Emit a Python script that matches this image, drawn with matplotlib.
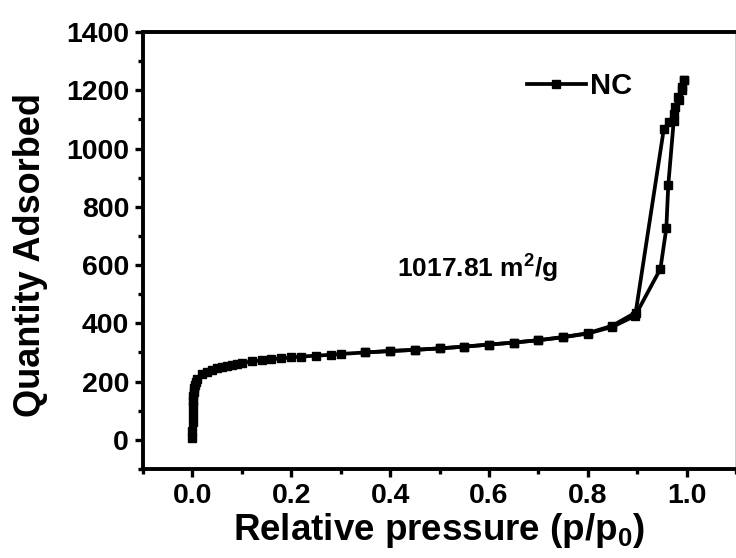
import matplotlib
matplotlib.use("Agg")
import matplotlib.pyplot as plt
from matplotlib.ticker import MultipleLocator

# adsorption branch (p/p0, quantity adsorbed)
ads_p = [0.0, 0.0, 0.0005, 0.001, 0.001, 0.0015, 0.002, 0.003, 0.004, 0.005, 0.007,
         0.01, 0.02, 0.03, 0.04, 0.05, 0.06, 0.07, 0.08, 0.09, 0.10, 0.12, 0.14,
         0.16, 0.18, 0.20, 0.22, 0.25, 0.28, 0.30, 0.35, 0.40, 0.45, 0.50, 0.55,
         0.60, 0.65, 0.70, 0.75, 0.80, 0.85, 0.896, 0.947, 0.959, 0.963, 0.974,
         0.977, 0.983, 0.991, 0.995]
ads_q = [5, 30, 60, 90, 115, 135, 150, 165, 178, 188, 198,
         210, 225, 232, 240, 246, 250, 254, 258, 261, 264, 269, 273,
         277, 280, 283, 286, 289, 292, 295, 300, 305, 309, 314, 320,
         327, 334, 342, 352, 365, 388, 426, 587, 726, 876, 1095,
         1142, 1176, 1211, 1234]

# desorption branch
des_p = [0.995, 0.990, 0.985, 0.975, 0.965, 0.954, 0.897, 0.85, 0.80, 0.75,
         0.70, 0.65, 0.60, 0.55, 0.50, 0.45, 0.40, 0.35]
des_q = [1234, 1200, 1165, 1120, 1090, 1068, 437, 392, 366, 353,
         342, 334, 327, 320, 314, 309, 305, 300]

plt.rcParams["font.family"] = ["Liberation Sans", "DejaVu Sans"]
plt.rcParams["font.weight"] = "bold"
plt.rcParams["mathtext.fontset"] = "custom"
plt.rcParams["mathtext.rm"] = "Liberation Sans:bold"
plt.rcParams["mathtext.bf"] = "Liberation Sans:bold"
plt.rcParams["mathtext.default"] = "bf"

fig = plt.figure(figsize=(7.36, 5.58), dpi=100)
ax = fig.add_axes([143 / 736, 89 / 558, 593 / 736, 437 / 558])

style = dict(color="black", lw=2.7, marker="s", ms=6, mec="black", mfc="black")
ax.plot(ads_p, ads_q, label="NC", **style)
ax.plot(des_p, des_q, **style)

ax.set_xlim(-0.1, 1.1)
ax.set_ylim(-100, 1400)
ax.xaxis.set_major_locator(MultipleLocator(0.2))
ax.xaxis.set_minor_locator(MultipleLocator(0.1))
ax.yaxis.set_major_locator(MultipleLocator(200))
ax.yaxis.set_minor_locator(MultipleLocator(100))
ax.tick_params(which="both", direction="out", width=2.4, top=False, right=False)
ax.tick_params(which="major", length=6, labelsize=20.5, pad=4)
ax.tick_params(which="minor", length=3.5)
for lbl in ax.get_xticklabels() + ax.get_yticklabels():
    lbl.set_fontweight("bold")
for side in ["left", "bottom", "top"]:
    ax.spines[side].set_linewidth(2.8)
ax.spines["right"].set_linewidth(1.0)

ax.set_xlabel("Relative pressure (p/p$_0$)", fontsize=26.5, fontweight="bold")
ax.set_ylabel("Quantity Adsorbed", fontsize=26, fontweight="bold")
ax.xaxis.set_label_coords(0.5, -0.095)
ax.yaxis.set_label_coords(-0.16, 0.49)

ax.text(0.576, 588, "1017.81 m$^2$/g", fontsize=19, fontweight="bold",
        ha="center", va="center")

ax.legend(loc="center left", bbox_to_anchor=(0.648, 0.876), frameon=False,
          handlelength=2.0, handletextpad=0.15, borderpad=0,
          borderaxespad=0, prop={"weight": "bold", "size": 21})

fig.savefig("out.png", dpi=100)
